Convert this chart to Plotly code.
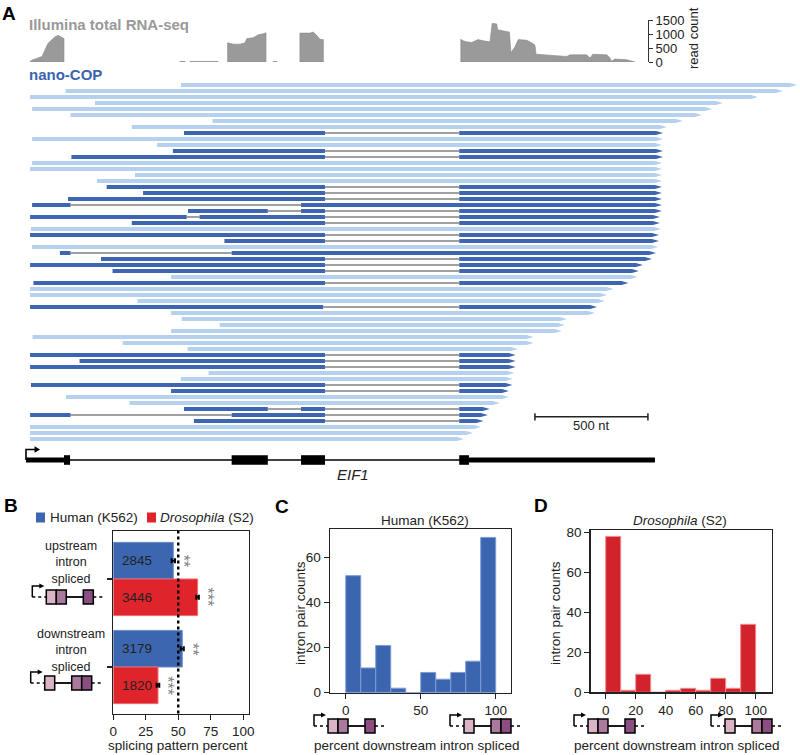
import plotly.graph_objects as go

W, H = 800, 755
FONT = "Liberation Sans, Arial, Helvetica, sans-serif"
INK = "#222222"

# ---------------- Panel A data (nt from TSS) ----------------
utr_blocks = [(0, 168), (1960, 2783)]
cds_blocks = [(168, 195), (910, 1070), (1217, 1323), (1917, 1960)]
gene_start, gene_end = 0, 2783
scale_bar_nt = (2252, 2752)
gene_name = "EIF1"

# nano-COP reads (aligned blocks), top to bottom
reads = [
    [(686, 3412)], [(175, 3350)], [(18, 3239)], [(305, 3084)], [(27, 3036)],
    [(197, 2991)], [(825, 2907)], [(468, 2836)],
    [(699, 1323), (1917, 2819)], [(27, 2819)], [(580, 2814)],
    [(650, 1323), (1917, 2819)], [(201, 1323), (1917, 2819)],
    [(27, 2814)], [(18, 2814)], [(482, 2814)], [(314, 2814)],
    [(357, 1323), (1917, 2814)], [(518, 1323), (1917, 2814)],
    [(186, 1323), (1917, 2814)], [(27, 197), (1217, 2814)],
    [(717, 1070), (1217, 1323), (1917, 2814)],
    [(18, 711), (768, 1323), (1917, 2805)], [(468, 1323), (1917, 2805)],
    [(22, 2810)], [(18, 1323), (1917, 2801)], [(878, 1323), (1917, 2801)],
    [(27, 2797)], [(150, 197), (910, 2788)], [(332, 1323), (1917, 2770)],
    [(18, 1323), (1917, 2730)], [(383, 1323), (1917, 2712)], [(642, 2706)],
    [(33, 1323), (1917, 2666)], [(18, 2600)], [(18, 2571)], [(493, 2562)],
    [(18, 1315), (1917, 2527)], [(642, 2518)], [(689, 2394)], [(857, 2385)],
    [(642, 2370)], [(29, 2246)], [(428, 2246)], [(715, 2177)],
    [(18, 1323), (1917, 2167)], [(237, 1323), (1917, 2167)],
    [(18, 1323), (1917, 2167)], [(808, 2162)], [(685, 2155)],
    [(22, 1323), (1917, 2153)], [(642, 1323), (1917, 2137)],
    [(177, 2137)], [(458, 2097)],
    [(699, 1070), (1217, 1323), (1917, 2052)],
    [(18, 197), (910, 1323), (1917, 2044)], [(743, 1323), (1917, 2024)],
    [(18, 2013)], [(18, 1978)], [(18, 1938)],
]

# Illumina coverage (nt, read count)
cov_e1_nt = [18, 31, 53, 71, 84, 97, 115, 128, 142, 159, 168]
cov_e1_ct = [21, 80, 140, 197, 430, 662, 800, 895, 952, 895, 837]
cov_i1a_nt = [681, 704]
cov_i1a_ct = [20, 20]
cov_i1b_nt = [726, 850]
cov_i1b_ct = [20, 20]
cov_e2_nt = [892, 917, 947, 969, 977, 1006, 1028, 1050, 1062]
cov_e2_ct = [684, 638, 638, 684, 835, 870, 974, 1009, 1044]
cov_i2_nt = [1093, 1111]
cov_i2_ct = [15, 15]
cov_e3_nt = [1212, 1257, 1271, 1286, 1301, 1316]
cov_e3_ct = [1032, 1032, 1067, 951, 812, 800]
cov_e4_nt = [1924, 1935, 1950, 1972, 2001, 2024, 2053, 2063, 2083, 2087, 2112,
             2139, 2146, 2164, 2178, 2216, 2238, 2252, 2257, 2304, 2363, 2393,
             2407, 2481, 2496, 2508, 2570, 2584, 2591, 2606, 2658, 2688, 2695]
cov_e4_ct = [812, 755, 719, 697, 800, 755, 719, 1381, 1358, 1150, 1102,
             1067, 335, 544, 800, 777, 684, 603, 279, 256, 221, 198,
             256, 256, 140, 279, 256, 140, 24, 105, 81, 24, 0]
cov_ticks = [0, 500, 1000, 1500]

# ---------------- Panel B data ----------------
b_group_labels = ["upstream<br>intron<br>spliced", "downstream<br>intron<br>spliced"]
b_human = [46.2, 53.1]
b_human_err = [1.3, 1.2]
b_human_n = ["2845", "3179"]
b_human_sig = ["**", "**"]
b_dros = [64.9, 34.4]
b_dros_err = [1.0, 1.0]
b_dros_n = ["3446", "1820"]
b_dros_sig = ["***", "***"]
b_ticks = [0, 25, 50, 75, 100]

# ---------------- Panels C / D data ----------------
bin_left = [0, 10, 20, 30, 40, 50, 60, 70, 80, 90]
c_counts = [52, 11, 21, 2, 0, 9, 6, 9, 14, 69]
d_counts = [78, 1, 9, 0, 1, 2, 1, 7, 2, 34]

# ---------------- colours ----------------
LIGHT = "#b6d1ef"
DARKB = "#3d65b1"
INTRON = "#808080"
HUMAN = "#3d66b1"
DROS = "#e0242b"
DROS_D = "#d2222c"
PALE, MAUVE, DARK = "#d8b4c6", "#a97a9b", "#8a4f80"

fig = go.Figure()

# ---- reads ----
HALF = 0.32
TIP = 31
lx, ly, dx, dy, ix, iy = [], [], [], [], [], []
for i, blocks in enumerate(reads):
    row = i + 1
    xs, ys = (dx, dy) if len(blocks) > 1 else (lx, ly)
    for k, (s, e) in enumerate(blocks):
        if k == len(blocks) - 1:
            t = min(TIP, e - s)
            xs += [s, e - t, e, e - t, s, s, None]
            ys += [row - HALF, row - HALF, row, row + HALF, row + HALF, row - HALF, None]
        else:
            xs += [s, e, e, s, s, None]
            ys += [row - HALF, row - HALF, row + HALF, row + HALF, row - HALF, None]
        if k < len(blocks) - 1:
            ix += [e, blocks[k + 1][0], None]
            iy += [row, row, None]

fig.add_trace(go.Scatter(x=ix, y=iy, mode="lines", line=dict(color=INTRON, width=1.5),
                         xaxis="x", yaxis="y", hoverinfo="skip"))
fig.add_trace(go.Scatter(x=lx, y=ly, mode="lines", fill="toself", fillcolor=LIGHT,
                         line=dict(width=0, color=LIGHT), xaxis="x", yaxis="y", hoverinfo="skip"))
fig.add_trace(go.Scatter(x=dx, y=dy, mode="lines", fill="toself", fillcolor=DARKB,
                         line=dict(width=0, color=DARKB), xaxis="x", yaxis="y", hoverinfo="skip"))

# ---- coverage ----
cx, cy = [], []
for nts, cts in [(cov_e1_nt, cov_e1_ct), (cov_i1a_nt, cov_i1a_ct), (cov_i1b_nt, cov_i1b_ct),
                 (cov_e2_nt, cov_e2_ct), (cov_i2_nt, cov_i2_ct), (cov_e3_nt, cov_e3_ct),
                 (cov_e4_nt, cov_e4_ct)]:
    cx += [nts[0]] + nts + [nts[-1], nts[0], None]
    cy += [0] + cts + [0, 0, None]
fig.add_trace(go.Scatter(x=cx, y=cy, mode="lines", fill="toself", fillcolor="#9a9a9a",
                         line=dict(width=0.6, color="#8a8a8a"), xaxis="x", yaxis="y2", hoverinfo="skip"))

shapes = []
annotations = []

# ---- gene model ----
GROW = 63.5
shapes.append(dict(type="line", xref="x", yref="y", x0=gene_start, x1=gene_end, y0=GROW, y1=GROW,
                   line=dict(color="black", width=1.6)))
for s, e in utr_blocks:
    shapes.append(dict(type="rect", xref="x", yref="y", x0=s, x1=e, y0=GROW - 0.42, y1=GROW + 0.42,
                       fillcolor="black", line=dict(width=0)))
for s, e in cds_blocks:
    shapes.append(dict(type="rect", xref="x", yref="y", x0=s, x1=e, y0=GROW - 0.8, y1=GROW + 0.8,
                       fillcolor="black", line=dict(width=0)))
# TSS arrow
shapes.append(dict(type="path", xref="x", yref="y",
                   path=f"M{gene_start},{GROW} L{gene_start},{GROW-1.75} L{gene_start+45},{GROW-1.75}",
                   line=dict(color="black", width=1.6)))
shapes.append(dict(type="path", xref="x", yref="y",
                   path=f"M{gene_start+38},{GROW-2.3} L{gene_start+62},{GROW-1.75} L{gene_start+38},{GROW-1.2} Z",
                   fillcolor="black", line=dict(width=0)))
annotations.append(dict(x=1447, y=65.85, xref="x", yref="y", text=f"<i>{gene_name}</i>", showarrow=False,
                        font=dict(size=15, color=INK)))
# scale bar
SB = 56.3
shapes.append(dict(type="line", xref="x", yref="y", x0=scale_bar_nt[0], x1=scale_bar_nt[1], y0=SB, y1=SB,
                   line=dict(color=INK, width=1.5)))
for xv in scale_bar_nt:
    shapes.append(dict(type="line", xref="x", yref="y", x0=xv, x1=xv, y0=SB - 0.6, y1=SB + 0.6,
                       line=dict(color=INK, width=1.5)))
annotations.append(dict(x=(scale_bar_nt[0] + scale_bar_nt[1]) / 2, y=57.75, xref="x", yref="y",
                        text=f"{scale_bar_nt[1]-scale_bar_nt[0]} nt", showarrow=False, font=dict(size=13, color=INK)))


def P(x, y):
    return x / W, 1 - y / H


def text(x, y, s, size=13, color=INK, xanchor="center", angle=0, bold=False):
    px, py = P(x, y)
    annotations.append(dict(x=px, y=py, xref="paper", yref="paper", text=f"<b>{s}</b>" if bold else s,
                            showarrow=False, xanchor=xanchor, yanchor="middle", textangle=angle,
                            font=dict(size=size, color=color, family=FONT)))


# ---- panel A texts ----
text(9, 13, "A", 19, "black", bold=True)
text(27, 25, "Illumina total RNA-seq", 15, "#999999", "left", bold=True)
text(27, 74, "nano-COP", 15, "#3a63b0", "left", bold=True)
text(694, 38, "read count", 13, INK, angle=-90)

# ---- Panel B ----
BOFF, BW = 0.208, 0.416
fig.add_trace(go.Bar(x=b_human, y=[g - BOFF for g in range(2)], orientation="h", width=BW,
                     marker=dict(color=HUMAN, line=dict(color="#6a8bcc", width=1)),
                     error_x=dict(type="data", array=b_human_err, color="black", thickness=2, width=2.5),
                     xaxis="x2", yaxis="y3"))
fig.add_trace(go.Bar(x=b_dros, y=[g + BOFF for g in range(2)], orientation="h", width=BW,
                     marker=dict(color=DROS, line=dict(color="#ee6a6e", width=1)),
                     error_x=dict(type="data", array=b_dros_err, color="black", thickness=2, width=2.5),
                     xaxis="x2", yaxis="y3"))
for g in range(2):
    for val, err, n, sig, off in [(b_human[g], b_human_err[g], b_human_n[g], b_human_sig[g], -BOFF),
                                  (b_dros[g], b_dros_err[g], b_dros_n[g], b_dros_sig[g], BOFF)]:
        annotations.append(dict(x=18, y=g + off, xref="x2", yref="y3", text=n, showarrow=False,
                                font=dict(size=13.5, color=INK)))
        annotations.append(dict(x=val + err + 6.8, y=g + off, xref="x2", yref="y3", text=sig, showarrow=False,
                                textangle=90, font=dict(size=16, color="#808080")))
shapes.append(dict(type="line", xref="x2", yref="y3 domain", x0=50, x1=50, y0=0, y1=1,
                   line=dict(color="black", width=2.5, dash="dot")))
# group labels
for lab, yc in zip(b_group_labels, [562.5, 650.5]):
    text(70.5, yc, lab, 12.5)
text(178, 745, "splicing pattern percent", 13.5)
# legend
for (x0, col, lab, tx) in [(36, HUMAN, "Human (K562)", 48), (147, DROS, "<i>Drosophila</i> (S2)", 158)]:
    a, b = P(x0, 512.5)
    c, d = P(x0 + 9, 522.5)
    shapes.append(dict(type="rect", xref="paper", yref="paper", x0=a, x1=c, y0=d, y1=b,
                       fillcolor=col, line=dict(width=0)))
    text(tx, 517.5, lab, 13.5, INK, "left")
text(11, 505, "B", 19, "black", bold=True)

# ---- Panels C / D ----
centers = [b + 5 for b in bin_left]
fig.add_trace(go.Bar(x=centers, y=c_counts, width=10,
                     marker=dict(color="#3c65b0", line=dict(color="#7d9bd6", width=1)),
                     xaxis="x3", yaxis="y4"))
fig.add_trace(go.Bar(x=centers, y=d_counts, width=10,
                     marker=dict(color=DROS_D, line=dict(color="#f08a8f", width=1)),
                     xaxis="x4", yaxis="y5"))
text(281.5, 506, "C", 19, "black", bold=True)
text(541, 505.5, "D", 19, "black", bold=True)
text(425, 520, "Human (K562)", 13.5)
text(680, 520, "<i>Drosophila</i> (S2)", 13.5)
text(300, 613, "intron pair counts", 13.5, angle=-90)
text(555, 613, "intron pair counts", 13.5, angle=-90)
text(416.5, 745, "percent downstream intron spliced", 13.5)
text(676.5, 745, "percent downstream intron spliced", 13.5)


# ---- splicing glyphs ----
def diagram(x0, yc, kind):
    def X(v):
        return (x0 + v) / W

    def Y(v):
        return 1 - (yc + v) / H

    shapes.append(dict(type="path", xref="paper", yref="paper",
                       path=f"M{X(0)},{Y(0)} L{X(0)},{Y(-11)} L{X(8)},{Y(-11)}",
                       line=dict(color="black", width=1.5)))
    shapes.append(dict(type="path", xref="paper", yref="paper",
                       path=f"M{X(7)},{Y(-13.5)} L{X(12)},{Y(-11)} L{X(7)},{Y(-8.5)} Z",
                       fillcolor="black", line=dict(width=0)))
    if kind == "up":
        boxes = [(14, 24, PALE), (24, 34, MAUVE), (51, 61, DARK)]
        solid = (34, 51)
    else:
        boxes = [(14, 24, PALE), (41, 51, MAUVE), (51, 61, DARK)]
        solid = (24, 41)
    for a, b in [(0, 14), (61, 72)]:
        shapes.append(dict(type="line", xref="paper", yref="paper", x0=X(a), x1=X(b), y0=Y(0), y1=Y(0),
                           line=dict(color="black", width=1.5, dash="dot")))
    shapes.append(dict(type="line", xref="paper", yref="paper", x0=X(solid[0]), x1=X(solid[1]),
                       y0=Y(0), y1=Y(0), line=dict(color="black", width=1.8)))
    for a, b, col in boxes:
        shapes.append(dict(type="rect", xref="paper", yref="paper", x0=X(a), x1=X(b), y0=Y(7), y1=Y(-7),
                           fillcolor=col, line=dict(color="black", width=1.5)))


diagram(32.3, 597, "up")
diagram(30.7, 683, "down")
diagram(314, 726, "up")
diagram(450, 726, "down")
diagram(574, 726, "up")
diagram(711, 726, "down")

frame = dict(showline=True, linecolor=INK, linewidth=1.4, mirror=True, ticks="outside", ticklen=5,
             tickwidth=1.3, tickcolor=INK, showgrid=False, zeroline=False, automargin=False,
             tickfont=dict(size=13.5, color=INK, family=FONT))

fig.update_layout(
    width=W, height=H, margin=dict(l=0, r=0, t=0, b=0, pad=0, autoexpand=False),
    paper_bgcolor="white", plot_bgcolor="rgba(0,0,0,0)", showlegend=False, barmode="overlay",
    font=dict(family=FONT, color=INK),
    xaxis=dict(domain=[0, 1], range=[-115.05, 3424.95], visible=False, anchor="y", automargin=False),
    yaxis=dict(domain=[1 - 475 / H, 1 - 79 / H], range=[66, 0], visible=False, anchor="x", automargin=False),
    yaxis2=dict(domain=[1 - 62 / H, 1 - 20 / H], range=[0, 1500], anchor="free", position=648 / W,
                side="right", showline=True, linecolor="#333", linewidth=1, ticks="outside", ticklen=4,
                tickcolor="#333", tickvals=cov_ticks, showgrid=False, zeroline=False, automargin=False,
                tickfont=dict(size=13, color=INK, family=FONT)),
    xaxis2=dict(frame, domain=[113.3 / W, 249 / W], range=[0, 104.5], anchor="y3", tickvals=b_ticks),
    yaxis3=dict(frame, domain=[1 - 713.5 / H, 1 - 531 / H], range=[1.528, -0.545], anchor="x2",
                tickvals=[0, 1], showticklabels=False),
    xaxis3=dict(frame, domain=[330 / W, 510.7 / W], range=[-10.5, 110], anchor="y4", tickvals=[0, 50, 100]),
    yaxis4=dict(frame, domain=[1 - 692.7 / H, 1 - 529.3 / H], range=[0, 72.6], anchor="x3",
                tickvals=[0, 20, 40, 60]),
    xaxis4=dict(frame, domain=[590.7 / W, 771.7 / W], range=[-10, 110.7], anchor="y5",
                tickvals=[0, 20, 40, 60, 80, 100]),
    yaxis5=dict(frame, domain=[1 - 692.3 / H, 1 - 530 / H], range=[0, 81.2], anchor="x4",
                tickvals=[0, 20, 40, 60, 80]),
    shapes=shapes, annotations=annotations,
)

fig.write_html("out.html", config={"displayModeBar": False, "staticPlot": True},
               post_script="document.body.style.margin='0px';")
